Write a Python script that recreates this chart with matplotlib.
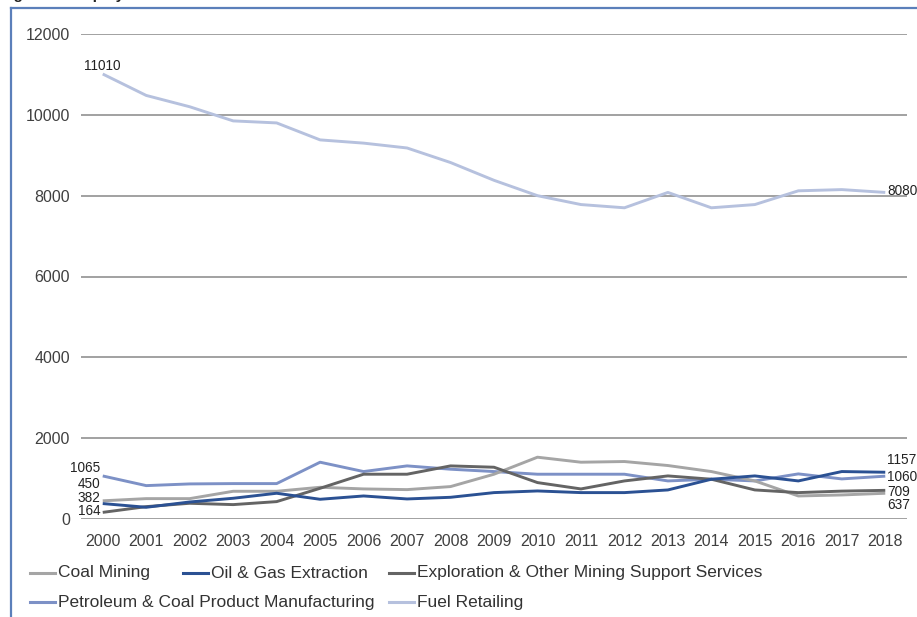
import matplotlib
matplotlib.use("Agg")
import matplotlib.pyplot as plt
from matplotlib.lines import Line2D

plt.rcParams['font.family'] = ['Liberation Sans', 'DejaVu Sans']

years = [str(y) for y in range(2000, 2019)]

coal_mining = [450, 504, 504, 686, 686, 785, 744, 727, 802, 1108, 1529, 1405, 1422, 1323, 1174, 942, 570, 595, 637]
oil_gas = [382, 290, 421, 513, 637, 488, 570, 496, 537, 653, 694, 653, 653, 719, 984, 1066, 942, 1174, 1157]
exploration = [164, 306, 389, 356, 430, 760, 1108, 1108, 1314, 1281, 901, 744, 942, 1066, 984, 719, 653, 690, 709]
petroleum = [1065, 826, 868, 876, 876, 1405, 1174, 1314, 1232, 1174, 1108, 1108, 1108, 942, 984, 942, 1116, 992, 1060]
fuel_retailing = [11010, 10480, 10200, 9850, 9800, 9380, 9300, 9180, 8820, 8380, 8000, 7780, 7700, 8080, 7700, 7780, 8120, 8150, 8080]

series_names = ["Coal Mining", "Oil & Gas Extraction", "Exploration & Other Mining Support Services",
                "Petroleum & Coal Product Manufacturing", "Fuel Retailing"]
series_values = [coal_mining, oil_gas, exploration, petroleum, fuel_retailing]
colors = ["#a5a5a5", "#2b5193", "#646464", "#7d91c6", "#b6c1de"]

y_ticks = [0, 2000, 4000, 6000, 8000, 10000, 12000]

W, H = 917, 617
fig = plt.figure(figsize=(W / 100, H / 100), dpi=100)
ax = fig.add_axes([81 / W, 1 - 519 / H, (907 - 81) / W, (519 - 34) / H])

# draw order: fuel retailing behind, then others
order = [4, 3, 0, 2, 1]
for i in order:
    ax.plot(years, series_values[i], color=colors[i], lw=2.1, solid_capstyle='butt', zorder=3)

ax.set_xlim(-0.5, len(years) - 0.5)
ax.set_ylim(0, 12000)
ax.set_yticks(y_ticks)
ax.set_yticklabels([str(t) for t in y_ticks])
ax.grid(axis='y', color='#888888', lw=1.1, zorder=0)
ax.set_axisbelow(True)
for s in ax.spines.values():
    s.set_visible(False)
ax.tick_params(axis='both', length=0, labelsize=11.5, colors='#404040')
ax.tick_params(axis='y', pad=8)
ax.tick_params(axis='x', pad=11)

lab_kw = dict(textcoords='offset pixels', fontsize=9.8, color='#222222', va='center')
last = len(years) - 1
ax.annotate(str(fuel_retailing[0]), (0, fuel_retailing[0]), xytext=(0, 8), ha='center', **lab_kw)
ax.annotate(str(fuel_retailing[last]), (last, fuel_retailing[last]), xytext=(2, 1), ha='left', **lab_kw)
ax.annotate(str(petroleum[0]), (0, petroleum[0]), xytext=(-2, 8), ha='right', **lab_kw)
ax.annotate(str(coal_mining[0]), (0, coal_mining[0]), xytext=(-2, 17), ha='right', **lab_kw)
ax.annotate(str(oil_gas[0]), (0, oil_gas[0]), xytext=(-2, 6), ha='right', **lab_kw)
ax.annotate(str(exploration[0]), (0, exploration[0]), xytext=(-2, 1), ha='right', **lab_kw)
ax.annotate(str(oil_gas[last]), (last, oil_gas[last]), xytext=(2, 12), ha='left', **lab_kw)
ax.annotate(str(petroleum[last]), (last, petroleum[last]), xytext=(2, -1), ha='left', **lab_kw)
ax.annotate(str(exploration[last]), (last, exploration[last]), xytext=(2, -2), ha='left', **lab_kw)
ax.annotate(str(coal_mining[last]), (last, coal_mining[last]), xytext=(2, -12), ha='left', **lab_kw)

# legend (manual layout to mimic flow layout)
legend_pos = [(30, 573), (183, 573), (389, 573), (30, 602), (389, 602)]
for (x0, y0), name, c in zip(legend_pos, series_names, colors):
    fig.add_artist(Line2D([x0 / W, (x0 + 25) / W], [1 - y0 / H, 1 - y0 / H],
                          transform=fig.transFigure, color=c, lw=2.2))
    fig.text((x0 + 28) / W, 1 - y0 / H, name, fontsize=12.5, color='#333333',
             va='center', ha='left')

# outer frame (left and top borders)
frame_c = '#5b7fba'
fig.add_artist(Line2D([10.5 / W, 10.5 / W], [0, 1 - 7.5 / H], transform=fig.transFigure,
                      color=frame_c, lw=1.6))
fig.add_artist(Line2D([10.5 / W, 1], [1 - 7.5 / H, 1 - 7.5 / H], transform=fig.transFigure,
                      color=frame_c, lw=1.6))

# cut-off title above the frame (only descenders visible, as in the reference)
fig.text(0.0, 1 + 1 / H, "Figure 1: Employment", fontsize=11, fontweight='bold',
         color='#222222', ha='left', va='baseline')

fig.savefig("out.png", dpi=100)
